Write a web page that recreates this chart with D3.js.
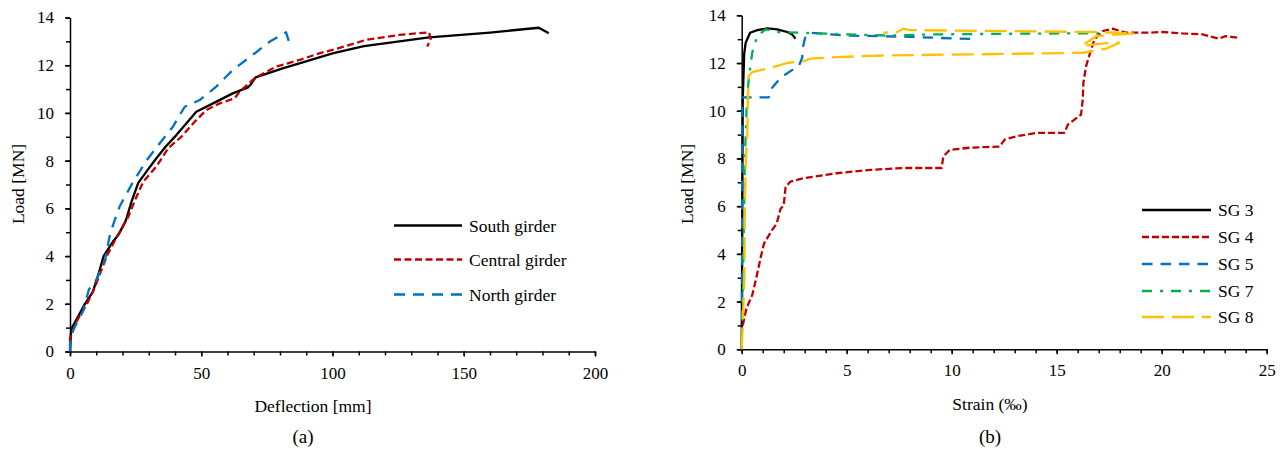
<!DOCTYPE html>
<html>
<head>
<meta charset="utf-8">
<script src="https://cdn.jsdelivr.net/npm/d3@7"></script>
<style>
  body { margin: 0; background: #fff; }
  .axis path, .axis line { stroke: #000; stroke-width: 1.5; }
  .curve { fill: none; stroke-width: 2.3; stroke-linejoin: round; }
</style>
</head>
<body>
<div class="graph"></div>
<script>
// (a) load vs deflection, [deflection mm, load MN]
var southGirder = [[0,0],[0.3,0.7],[0.8,1.0],[2,1.25],[5.7,2.0],[8.7,2.5],[11,3.3],[12.8,4.0],[16.3,4.6],[18.5,4.9],[21.3,5.5],[23.5,6.3],[26,7.07],[29.1,7.54],[32.9,8.1],[36.4,8.58],[40.5,9.07],[44.3,9.56],[48.1,10.05],[54.5,10.4],[62,10.82],[67.8,11.07],[68.7,11.17],[70.7,11.49],[81,11.87],[87.4,12.08],[100,12.5],[112,12.8],[136.8,13.17],[160,13.37],[178.6,13.57],[182.4,13.34]];
var centralGirder = [[0,0.4],[0,0.55],[2.7,1.3],[6.5,2.0],[9.5,2.7],[14,4.0],[17.8,4.8],[20,5.2],[22.2,5.65],[25,6.4],[27.9,7.12],[32.9,7.75],[37.4,8.52],[42.4,9.0],[47.5,9.63],[51.9,10.12],[57,10.4],[62.7,10.61],[64.6,10.89],[70.3,11.45],[78.5,11.94],[87.4,12.22],[95,12.5],[100,12.64],[112.7,13.06],[125.4,13.27],[136.8,13.38],[137.4,13.1],[136.1,12.78]];
var northGirder = [[0,0],[0,0.35],[1.2,0.9],[5,1.7],[7.2,2.6],[10,3.0],[13.3,3.8],[15.2,4.9],[17,5.5],[19,6.1],[24,7.1],[29.1,8.0],[34.2,8.73],[39.2,9.42],[43.7,10.26],[49.4,10.54],[55.7,11.1],[62,11.8],[69.6,12.43],[76,12.98],[82.3,13.38],[84.2,12.71]];

// (b) load vs strain, [strain ‰, load MN]
var sg3 = [[0,0],[0.03,6],[0.05,10.5],[0.12,12.4],[0.19,12.85],[0.4,13.27],[0.74,13.38],[1.22,13.45],[1.69,13.41],[2.17,13.3],[2.4,13.2],[2.56,13.02]];
var sg4 = [[0.05,1.0],[0.22,1.7],[0.5,2.27],[0.69,2.97],[0.91,3.87],[1.06,4.43],[1.44,4.99],[1.66,5.26],[1.85,5.89],[2.0,6.03],[2.09,6.8],[2.32,7.03],[2.96,7.17],[4.54,7.38],[6.12,7.52],[7.7,7.6],[9.52,7.6],[9.6,8.08],[9.91,8.36],[10.86,8.45],[12.29,8.5],[12.52,8.79],[13.08,8.93],[14.03,9.07],[15.37,9.07],[15.53,9.42],[16.16,9.84],[16.24,10.47],[16.27,11.17],[16.4,11.87],[16.64,12.57],[16.8,12.99],[17.19,13.34],[17.66,13.44],[18.3,13.27],[19.4,13.27],[20.04,13.3],[20.99,13.24],[21.94,13.2],[22.72,13.02],[23.04,13.13],[23.3,13.1],[23.67,13.06]];
var sg5 = [[0.02,1.2],[0.02,6],[0.03,10.56],[1.29,10.56],[1.45,10.96],[1.85,11.38],[2.32,11.66],[2.72,11.87],[2.88,12.22],[2.93,12.71],[3.04,13.13],[3.27,13.27],[5,13.15],[8,13.1],[10,13.03],[11.2,13.0]];
var sg7 = [[0,0],[0.05,2],[0.1,5],[0.15,8],[0.25,10.5],[0.35,11.45],[0.5,12.43],[0.74,13.13],[1.14,13.41],[1.69,13.3],[2.8,13.27],[5,13.2],[7,13.15],[9,13.2],[12,13.22],[15,13.24],[17.1,13.24]];
var sg8 = [[0,0],[0.05,1.2],[0.13,3],[0.15,6],[0.2,8],[0.27,9.1],[0.3,10.5],[0.33,11.45],[0.5,11.62],[1.38,11.8],[2.17,12.0],[2.96,12.08],[3.27,12.18],[4.54,12.25],[6.9,12.32],[10.86,12.36],[14,12.4],[16.24,12.43],[17.35,12.6],[17.98,12.85],[17.5,12.85],[16.2,12.72],[16.9,13.13],[18.7,13.24],[17.5,13.28],[16.7,13.3],[8.0,13.38],[7.7,13.44],[7.4,13.3],[6.75,13.27]];

var loadTicks = [0, 2, 4, 6, 8, 10, 12, 14];
var deflectionTicks = [0, 50, 100, 150, 200];
var strainTicks = [0, 5, 10, 15, 20, 25];

var serif = '"Liberation Serif", "Times New Roman", "DejaVu Serif", serif';

var svg = d3.select('div.graph')
    .append('svg')
        .attr('width', 1285)
        .attr('height', 457)
        .attr('font-family', serif);

function drawPanel(p) {
    var x = d3.scaleLinear().domain(p.xDomain).range(p.xRange);
    var y = d3.scaleLinear().domain([0, 14]).range(p.yRange);
    var g = svg.append('g');

    // minor ticks first, majors on top
    g.append('g')
        .attr('class', 'axis')
        .attr('transform', 'translate(0,' + p.yRange[0] + ')')
        .call(d3.axisBottom(x).tickValues(d3.range(p.xDomain[0], p.xDomain[1] + 0.001, p.xMinor)).tickSize(4).tickSizeOuter(0).tickFormat(''))
        .select('.domain').remove();
    g.append('g')
        .attr('class', 'axis')
        .attr('transform', 'translate(' + p.xRange[0] + ',0)')
        .call(d3.axisLeft(y).tickValues(d3.range(0, 14.001, 1)).tickSize(4).tickSizeOuter(0).tickFormat(''))
        .select('.domain').remove();

    g.append('g')
        .attr('class', 'axis')
        .attr('transform', 'translate(0,' + p.yRange[0] + ')')
        .call(d3.axisBottom(x).tickValues(p.xTicks).tickSize(5).tickSizeOuter(0).tickPadding(10))
        .attr('font-family', serif)
        .selectAll('text')
            .style('font-family', serif)
            .style('font-size', '17px');
    g.append('g')
        .attr('class', 'axis')
        .attr('transform', 'translate(' + p.xRange[0] + ',0)')
        .call(d3.axisLeft(y).tickValues(loadTicks).tickSize(5).tickSizeOuter(0).tickPadding(11))
        .attr('font-family', serif)
        .selectAll('text')
            .style('font-family', serif)
            .style('font-size', '17px');

    var line = d3.line()
        .x((d) => x(d[0]))
        .y((d) => y(d[1]));

    g.selectAll('.curve')
        .data(p.series)
        .enter()
        .append('path')
            .attr('class', 'curve')
            .attr('d', (d) => line(d.values))
            .attr('stroke', (d) => d.color)
            .attr('stroke-dasharray', (d) => d.dash);

    g.append('text')
        .attr('x', p.xTitlePos[0])
        .attr('y', p.xTitlePos[1])
        .attr('text-anchor', 'middle')
        .style('font-family', serif)
        .style('font-size', '17.5px')
        .text(p.xTitle);
    g.append('text')
        .attr('transform', 'translate(' + p.yTitleX + ',184) rotate(-90)')
        .attr('text-anchor', 'middle')
        .attr('dy', '0.35em')
        .style('font-family', serif)
        .style('font-size', '17.5px')
        .text('Load [MN]');
    g.append('text')
        .attr('x', p.captionX)
        .attr('y', 443)
        .attr('text-anchor', 'middle')
        .style('font-family', serif)
        .style('font-size', '19px')
        .text(p.caption);

    var legend = g.selectAll('.legend')
        .data(p.series)
        .enter()
        .append('g')
            .attr('class', 'legend')
            .attr('transform', (d, i) => 'translate(' + p.legendX + ',' + p.legendY[i] + ')');
    legend.append('line')
        .attr('x1', 0)
        .attr('x2', p.legendLen)
        .attr('stroke', (d) => d.color)
        .attr('stroke-width', 2.3)
        .attr('stroke-dasharray', (d) => d.dash);
    legend.append('text')
        .attr('x', p.legendLen + 7)
        .attr('dy', '0.35em')
        .style('font-family', serif)
        .style('font-size', '17.5px')
        .text((d) => d.name);
}

drawPanel({
    xDomain: [0, 200], xRange: [70, 595], xMinor: 10, xTicks: deflectionTicks,
    yRange: [351.5, 17.5],
    xTitle: 'Deflection [mm]', xTitlePos: [313, 412], yTitleX: 18,
    caption: '(a)', captionX: 303,
    legendX: 394, legendLen: 68, legendY: [225.5, 259.5, 294.5],
    series: [
        {name: 'South girder', values: southGirder, color: '#000000', dash: null},
        {name: 'Central girder', values: centralGirder, color: '#c00000', dash: '7,3.5'},
        {name: 'North girder', values: northGirder, color: '#0070c0', dash: '11,8'}
    ]
});

drawPanel({
    xDomain: [0, 25], xRange: [741.7, 1266.7], xMinor: 1, xTicks: strainTicks,
    yRange: [349.3, 15.3],
    xTitle: 'Strain (‰)', xTitlePos: [990, 410], yTitleX: 687,
    caption: '(b)', captionX: 990,
    legendX: 1142, legendLen: 69, legendY: [210, 237, 264, 291, 317],
    series: [
        {name: 'SG 3', values: sg3, color: '#000000', dash: null},
        {name: 'SG 4', values: sg4, color: '#c00000', dash: '7,3'},
        {name: 'SG 5', values: sg5, color: '#0070c0', dash: '10.5,8'},
        {name: 'SG 7', values: sg7, color: '#00b050', dash: '10,8,3,8'},
        {name: 'SG 8', values: sg8, color: '#ffc000', dash: '22,8'}
    ]
});
</script>
</body>
</html>
